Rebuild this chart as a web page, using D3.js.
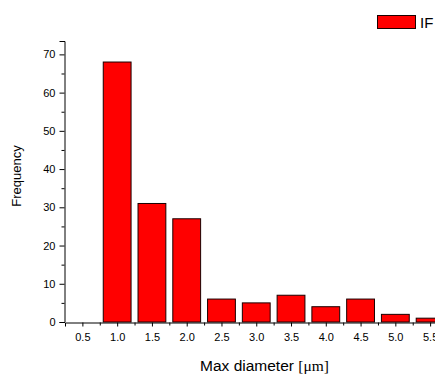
<!DOCTYPE html>
<html>
<head>
<meta charset="utf-8">
<script src="https://cdn.jsdelivr.net/npm/d3@7"></script>
<style>
  html, body { margin: 0; padding: 0; background: #fff; }
  svg { display: block; font-family: Arial, "Liberation Sans", sans-serif; }
</style>
</head>
<body>
<svg id="chart" width="435" height="374"></svg>
<script>
// Data
const bins = [0.5, 1.0, 1.5, 2.0, 2.5, 3.0, 3.5, 4.0, 4.5, 5.0, 5.5];
const counts = [0, 68, 31, 27, 6, 5, 7, 4, 6, 2, 1];
const xTickValues = [0.5, 1.0, 1.5, 2.0, 2.5, 3.0, 3.5, 4.0, 4.5, 5.0, 5.5];
const yTickValues = [0, 10, 20, 30, 40, 50, 60, 70];
const seriesName = "IF";

const svg = d3.select("#chart");
const x = d3.scaleLinear().domain([0.25, 5.75]).range([65, 447.5]);
const y = d3.scaleLinear().domain([0, 73.5]).range([322, 41]);
const binWidth = 0.4;

// Bars
svg.append("g").selectAll("rect").data(bins.map((b, i) => ({b, v: counts[i]})))
  .join("rect")
  .attr("x", d => x(d.b - binWidth / 2))
  .attr("width", d => x(d.b + binWidth / 2) - x(d.b - binWidth / 2))
  .attr("y", d => y(d.v))
  .attr("height", d => y(0) - y(d.v))
  .attr("fill", "#ff0000")
  .attr("stroke", "#1a0000")
  .attr("stroke-width", 1);

// Y axis
const yAxis = svg.append("g").attr("transform", "translate(64.5,0)")
  .call(d3.axisLeft(y).tickValues(yTickValues).tickSize(5).tickPadding(4).tickFormat(d3.format("d")));
const yMinor = svg.append("g").attr("transform", "translate(64.5,0)")
  .call(d3.axisLeft(y).tickValues(d3.range(5, 75, 10)).tickSize(3).tickFormat(""));
yMinor.select(".domain").remove();

// X axis
const xAxis = svg.append("g").attr("transform", "translate(0,322.5)")
  .call(d3.axisBottom(x).tickValues(xTickValues).tickSize(4).tickPadding(7).tickFormat(d3.format(".1f")));
const xMinor = svg.append("g").attr("transform", "translate(0,322.5)")
  .call(d3.axisBottom(x).tickValues(d3.range(0.75, 5.8, 0.5)).tickSize(3).tickFormat(""));
xMinor.select(".domain").remove();

svg.selectAll(".domain").attr("stroke", "#000").attr("stroke-width", 1);
svg.selectAll(".tick line").attr("stroke", "#000");
svg.selectAll(".tick text").attr("font-size", 11).attr("fill", "#000")
  .attr("font-family", "Arial, 'Liberation Sans', sans-serif");

// Axis titles
const xt = svg.append("text").attr("x", 264.5).attr("y", 371)
  .attr("text-anchor", "middle").attr("font-size", 15.5).attr("fill", "#000");
xt.append("tspan").text("Max diameter ");
xt.append("tspan").attr("font-family", "'Liberation Serif', 'Times New Roman', serif").text("[μm]");

svg.append("text").attr("transform", "translate(21,176) rotate(-90)")
  .attr("text-anchor", "middle").attr("font-size", 13).attr("fill", "#000")
  .text("Frequency");

// Legend
svg.append("rect").attr("x", 377.5).attr("y", 15.5).attr("width", 38).attr("height", 13)
  .attr("fill", "#ff0000").attr("stroke", "#1a0000").attr("stroke-width", 1);
svg.append("text").attr("x", 420).attr("y", 27.5).attr("font-size", 15).attr("fill", "#000")
  .text(seriesName);
</script>
</body>
</html>
